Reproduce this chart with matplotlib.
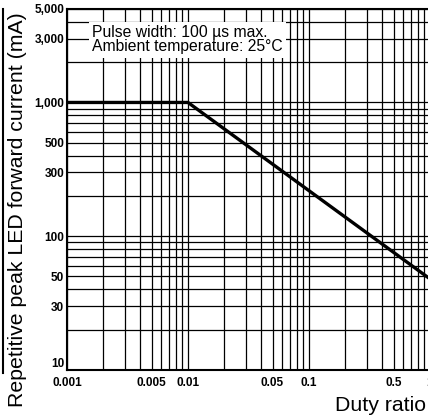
import matplotlib
matplotlib.use("Agg")
import matplotlib.pyplot as plt
from matplotlib.lines import Line2D
from matplotlib.ticker import FixedLocator, LogLocator, NullFormatter

duty = [0.001, 0.01, 1.0]
current = [1000, 1000, 48]

x_ticks = [0.001, 0.005, 0.01, 0.05, 0.1, 0.5, 1]
x_labels = ["0.001", "0.005", "0.01", "0.05", "0.1", "0.5", "1"]
y_ticks = [10, 30, 50, 100, 300, 500, 1000, 3000, 5000]
y_labels = ["10", "30", "50", "100", "300", "500", "1,000", "3,000", "5,000"]


def main():
    plt.rcParams['font.family'] = ['Liberation Sans', 'DejaVu Sans']
    fig = plt.figure(figsize=(4.28, 4.19), dpi=100)
    ax = fig.add_axes([0.1565, 0.117, 0.848, 0.8616])

    ax.set_xscale("log")
    ax.set_yscale("log")
    ax.set_xlim(0.001, 1)
    ax.set_ylim(10, 5000)

    ax.xaxis.set_minor_locator(LogLocator(base=10, subs=range(2, 10)))
    ax.yaxis.set_minor_locator(LogLocator(base=10, subs=range(2, 10)))
    ax.xaxis.set_minor_formatter(NullFormatter())
    ax.yaxis.set_minor_formatter(NullFormatter())
    ax.xaxis.set_major_locator(FixedLocator(x_ticks))
    ax.yaxis.set_major_locator(FixedLocator(y_ticks))
    ax.set_xticklabels(x_labels, fontsize=8.5, fontweight="bold")
    ax.set_yticklabels(y_labels, fontsize=8.5, fontweight="bold")
    ax.tick_params(which="both", length=0)
    ax.tick_params(axis="x", pad=5)
    ax.tick_params(axis="y", pad=2)
    ax.get_yticklabels()[0].set_va("bottom")

    ax.grid(True, which="both", color="black", linewidth=0.9)
    for s in ax.spines.values():
        s.set_linewidth(1.5)

    ax.plot(duty, current, color="black", linewidth=2.4, zorder=5)

    ax.text(0.07, 0.955, "Pulse width: 100 \u00b5s max.\nAmbient temperature: 25\u00b0C",
            transform=ax.transAxes, fontsize=11.3, va="top", ha="left", linespacing=0.92,
            bbox=dict(facecolor="white", edgecolor="none", pad=2.5), zorder=6)

    fig.text(0.042, 0.5, "Repetitive peak LED forward current (mA)", rotation=90,
             fontsize=15.3, ha="center", va="center")
    fig.text(0.888, 0.033, "Duty ratio", fontsize=15.3, ha="center", va="center")

    # scanner edge at the far left
    fig.add_artist(Line2D([0.006, 0.006], [0.11, 0.978], color="black", linewidth=1.5))

    fig.savefig("out.png", dpi=100)


if __name__ == "__main__":
    main()
